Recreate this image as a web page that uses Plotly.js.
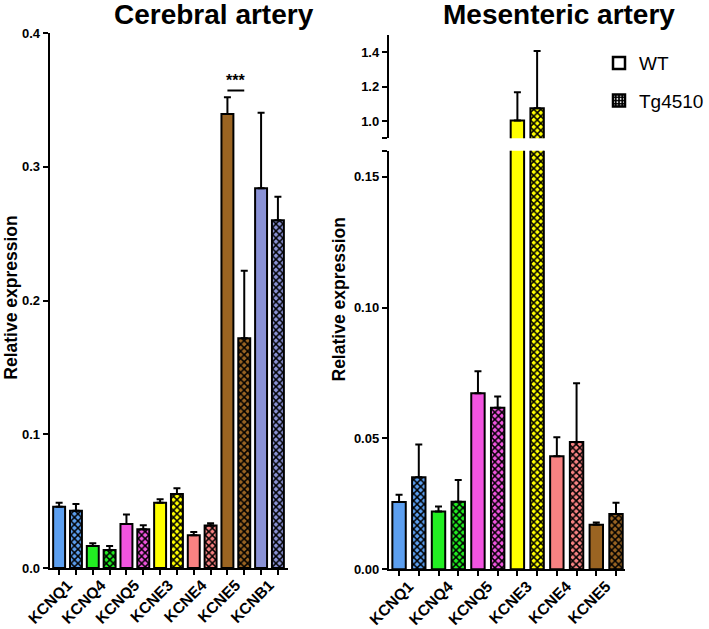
<!DOCTYPE html>
<html>
<head>
<meta charset="utf-8">
<script src="https://cdn.plot.ly/plotly-3.0.1.min.js"></script>
<style>html,body{margin:0;padding:0;background:#fff;}#chart{width:709px;height:629px;}</style>
</head>
<body>
<div id="chart"></div>
<script>
// ---- Data ----
const cerGenes = ['KCNQ1','KCNQ4','KCNQ5','KCNE3','KCNE4','KCNE5','KCNB1'];
const cerColors = ['#5c9ff0','#22ee22','#f254e0','#ffff00','#f88282','#9a6422','#8a92d6'];
const cerWT = [0.0458,0.0164,0.0329,0.0488,0.0244,0.3394,0.2839];
const cerWTerr = [0.0030,0.0021,0.0071,0.0026,0.0025,0.0126,0.0565];
const cerTg = [0.0428,0.0135,0.0289,0.0553,0.0317,0.1717,0.2600];
const cerTgErr = [0.0050,0.0029,0.0031,0.0043,0.0017,0.0506,0.0176];

const mesGenes = ['KCNQ1','KCNQ4','KCNQ5','KCNE3','KCNE4','KCNE5'];
const mesColors = ['#5c9ff0','#22ee22','#f254e0','#ffff00','#f88282','#9a6422'];
const mesWT = [0.0257,0.0221,0.0673,1.004,0.0432,0.0170];
const mesWTerr = [0.0028,0.0019,0.0084,0.163,0.0073,0.0009];
const mesTg = [0.0352,0.0258,0.0618,1.074,0.0487,0.0211];
const mesTgErr = [0.0125,0.0083,0.0043,0.333,0.0224,0.0043];

const groupNames = ['WT','Tg4510'];
const sigText = '***';

// ---- Helpers ----
const FONT = 'Liberation Sans, Arial, Helvetica, sans-serif';
const wtPos = n => n.map((_, i) => 2 * i);
const tgPos = n => n.map((_, i) => 2 * i + 1);
const midPos = n => n.map((_, i) => 2 * i + 0.5);
const zeros = n => n.map(() => 0);

function barTrace(xs, ys, errs, colors, xa, ya, patterned, width) {
  const t = {
    type: 'bar', x: xs, y: ys, xaxis: xa, yaxis: ya, width: width,
    showlegend: false, hoverinfo: 'skip',
    marker: {color: colors, line: {color: '#000', width: 2}},
    error_y: {type: 'data', array: errs, arrayminus: zeros(errs), symmetric: false,
              color: '#000', thickness: 2, width: 3.5}
  };
  if (patterned) {
    // checker-like pattern: black foreground over the per-gene colour
    t.marker.color = '#000';
    t.marker.pattern = {shape: 'x', size: 5, solidity: 0.5, fgcolor: '#000', fgopacity: 1,
                        bgcolor: colors, fillmode: 'replace'};
  }
  return t;
}

const traces = [
  barTrace(wtPos(cerGenes), cerWT, cerWTerr, cerColors, 'x', 'y', false, 0.71),
  barTrace(tgPos(cerGenes), cerTg, cerTgErr, cerColors, 'x', 'y', true, 0.71),
  barTrace(wtPos(mesGenes), mesWT, mesWTerr, mesColors, 'x2', 'y2', false, 0.68),
  barTrace(tgPos(mesGenes), mesTg, mesTgErr, mesColors, 'x2', 'y2', true, 0.68),
  barTrace(wtPos(mesGenes), mesWT, mesWTerr, mesColors, 'x2', 'y3', false, 0.68),
  barTrace(tgPos(mesGenes), mesTg, mesTgErr, mesColors, 'x2', 'y3', true, 0.68),
  // legend entries
  {type: 'bar', x: [null], y: [null], name: groupNames[0], legendgroup: 'a', showlegend: true,
   marker: {color: '#fff', line: {color: '#000', width: 2.5}}},
  {type: 'bar', x: [null], y: [null], name: groupNames[1], legendgroup: 'b', showlegend: true,
   marker: {color: '#000', line: {color: '#000', width: 2.5},
            pattern: {shape: '.', size: 4, solidity: 0.25, fgcolor: '#fff', bgcolor: '#000', fgopacity: 1, fillmode: 'replace'}}}
];

const tickFont = {family: FONT, size: 13, color: '#000', weight: 'bold'};
const xFont = {family: FONT, size: 15.5, color: '#000', weight: 'bold'};

function xAxis(genes, domain, anchor, range) {
  return {
    domain: domain, anchor: anchor, range: range, fixedrange: true,
    showline: true, linecolor: '#000', linewidth: 2, zeroline: false, showgrid: false,
    tickmode: 'array', tickvals: midPos(genes), ticktext: genes, ticks: '',
    tickangle: -45, tickfont: xFont,
    minor: {tickmode: 'linear', tick0: 0, dtick: 1, ticks: 'outside', ticklen: 5, tickwidth: 2, tickcolor: '#000', showgrid: false}
  };
}
function yAxis(domain, anchor, range, vals, text) {
  return {
    domain: domain, anchor: anchor, range: range, fixedrange: true,
    showline: true, linecolor: '#000', linewidth: 2, zeroline: false, showgrid: false,
    tickmode: 'array', tickvals: vals, ticktext: text,
    ticks: 'outside', ticklen: 5, tickwidth: 2, tickcolor: '#000', tickfont: tickFont
  };
}

const layout = {
  width: 709, height: 629,
  margin: {l: 0, r: 0, t: 0, b: 0},
  paper_bgcolor: '#fff', plot_bgcolor: '#fff',
  barmode: 'overlay',
  font: {family: FONT, color: '#000'},
  xaxis: xAxis(cerGenes, [0.0705, 0.409], 'y', [-0.56, 13.62]),
  yaxis: yAxis([0.097, 0.9475], 'x', [0, 0.4], [0, 0.1, 0.2, 0.3, 0.4], ['0.0','0.1','0.2','0.3','0.4']),
  xaxis2: xAxis(mesGenes, [0.5515, 0.8872], 'y2', [-0.52, 11.48]),
  yaxis2: yAxis([0.0949, 0.7604], 'x2', [0, 0.16], [0, 0.05, 0.10, 0.15, 0.16], ['0.00','0.05','0.10','0.15','']),
  yaxis3: yAxis([0.7801, 0.9444], 'x2', [0.9, 1.5], [0.9, 1.0, 1.2, 1.4], ['','1.0','1.2','1.4']),
  showlegend: true,
  legend: {x: 0.85, y: 0.93, xanchor: 'left', yanchor: 'top', bgcolor: 'rgba(0,0,0,0)',
           font: {family: FONT, size: 19, color: '#000'}, tracegroupgap: 10, itemclick: false},
  shapes: [
    {type: 'line', xref: 'x', yref: 'y', x0: 10, x1: 11, y0: 0.357, y1: 0.357, line: {color: '#000', width: 2}}
  ],
  annotations: [
    {text: 'Cerebral artery', xref: 'paper', yref: 'paper', x: 0.303, y: 1.005, xanchor: 'center', yanchor: 'top',
     showarrow: false, font: {family: FONT, size: 28, color: '#000', weight: 'bold'}},
    {text: 'Mesenteric artery', xref: 'paper', yref: 'paper', x: 0.793, y: 1.005, xanchor: 'center', yanchor: 'top',
     showarrow: false, font: {family: FONT, size: 28, color: '#000', weight: 'bold'}},
    {text: 'Relative expression', xref: 'paper', yref: 'paper', x: 0.0145, y: 0.527, xanchor: 'center', yanchor: 'middle',
     textangle: -90, showarrow: false, font: {family: FONT, size: 17.5, color: '#000', weight: 'bold'}},
    {text: 'Relative expression', xref: 'paper', yref: 'paper', x: 0.481, y: 0.524, xanchor: 'center', yanchor: 'middle',
     textangle: -90, showarrow: false, font: {family: FONT, size: 17.5, color: '#000', weight: 'bold'}},
    {text: sigText, xref: 'x', yref: 'y', x: 10.5, y: 0.357, xanchor: 'center', yanchor: 'bottom',
     showarrow: false, font: {family: FONT, size: 16, color: '#000', weight: 'bold'}}
  ]
};

Plotly.newPlot('chart', traces, layout, {staticPlot: true, displayModeBar: false});
</script>
</body>
</html>
